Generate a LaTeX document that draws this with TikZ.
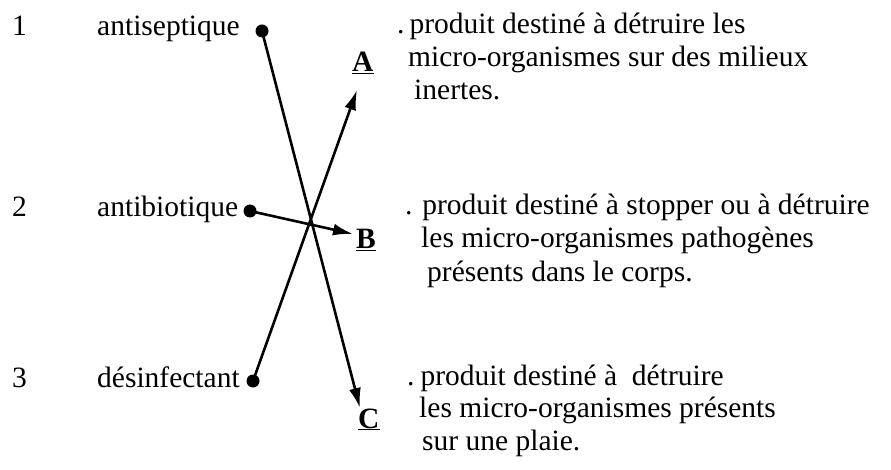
\documentclass[tikz,border=0pt]{standalone}
\usepackage{fontspec}
\setmainfont{Liberation Serif}
\usetikzlibrary{arrows.meta}
\tikzset{
  txt/.style={anchor=base west,inner sep=0pt,font=\fontsize{29.5}{33}\selectfont},
  dot/.style={circle,fill=black,inner sep=0pt,minimum size=13pt},
  link/.style={line width=2.6pt,-{Latex[length=20pt,width=12pt]}}
}
\begin{document}
\begin{tikzpicture}[x=1pt,y=-1pt]
\path[use as bounding box] (0,0) rectangle (891,470);
% left column
\node[txt] (n1) at (12,36) {1};
\node[txt] (w1) at (97,36) {antiseptique};
\node[dot] (d1) at (262,31) {};
\node[txt] (n2) at (12,217) {2};
\node[txt] (w2) at (97,217) {antibiotique};
\node[dot] (d2) at (250,211) {};
\node[txt] (n3) at (12,387) {3};
\node[txt] (w3) at (97,387) {désinfectant};
\node[dot] (d3) at (253,381) {};
% letters
\node[txt] (A) at (352,72) {\underline{\textbf{A}}};
\node[txt] (B) at (356,249) {\underline{\textbf{B}}};
\node[txt] (C) at (358,428) {\underline{\textbf{C}}};
\coordinate (tA) at (357,90);
\coordinate (tB) at (353,234);
\coordinate (tC) at (360,408);
% right column
\node[txt] (a1) at (397,34) {.\kern5pt produit destiné à détruire les};
\node[txt] (a2) at (408,67) {micro-organismes sur des milieux};
\node[txt] (a3) at (414,100) {inertes.};
\node[txt] (b1) at (405,215) {. produit destiné à stopper ou à détruire};
\node[txt] (b2) at (421,248) {les micro-organismes pathogènes};
\node[txt] (b3) at (427,282) {présents dans le corps.};
\node[txt] (c1) at (407,385) {.\kern6pt produit destiné à \ détruire};
\node[txt] (c2) at (419,417) {les micro-organismes présents};
\node[txt] (c3) at (422,450) {sur une plaie.};
% links
\draw[link] (d1.center) -- (tC);
\draw[link] (d2.center) -- (tB);
\draw[link] (d3.center) -- (tA);
\end{tikzpicture}
\end{document}
